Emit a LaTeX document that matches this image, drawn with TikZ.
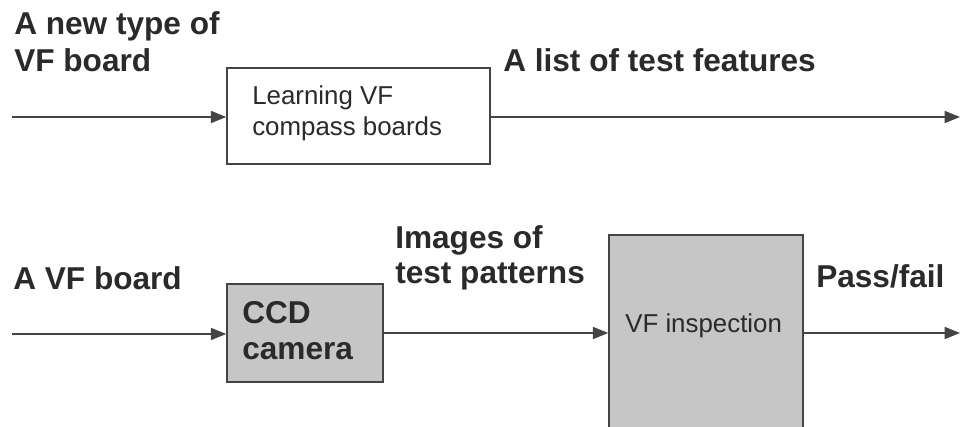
\documentclass[tikz,border=0pt]{standalone}
\usepackage{fontspec}
\setmainfont{Liberation Sans}
\usetikzlibrary{arrows.meta}
\definecolor{ink}{HTML}{2A2A2A}
\definecolor{wire}{HTML}{444444}
\definecolor{boxgray}{HTML}{C6C6C6}
\tikzset{
  flow/.style={draw=wire, line width=1.1pt, -{Triangle[length=11.5pt,width=9pt]}},
  plainbox/.style={draw=wire, line width=1.1pt, fill=white, inner sep=0pt},
  shadedbox/.style={draw=wire, line width=1.1pt, fill=boxgray, inner sep=0pt},
  biglabel/.style={text=ink, inner sep=0pt, anchor=base west, align=left,
    font=\fontsize{23.7}{27.75}\selectfont\bfseries},
  boxtext/.style={text=ink, inner sep=0pt, anchor=base west, align=left,
    font=\fontsize{19.4}{23.25}\selectfont},
}
\begin{document}
\begin{tikzpicture}[x=0.75pt, y=-0.75pt]
\useasboundingbox (0,0) rectangle (962,427);

% learning stage
\node[plainbox, minimum width=197.25pt, minimum height=72pt] (learn) at (358.5,116) {};
\node[boxtext] (learntxt) at (252,105) {Learning VF};
\node[boxtext] (learntxt2) at (252,136) {compass boards};
\coordinate (inA) at (12,117);
\coordinate (outA) at (960,117);
\draw[flow] (inA) -- (inA -| learn.west);
\draw[flow] (outA -| learn.east) -- (outA);
\node[biglabel] (newtype) at (14,35) {A new type of};
\node[biglabel] (newtype2) at (14,72) {VF board};
\node[biglabel] (features) at (503,72) {A list of test features};

% inspection stage
\node[shadedbox, minimum width=117pt, minimum height=73.5pt] (ccd) at (305,333) {};
\node[biglabel] (ccdtxt) at (242,323) {CCD};
\node[biglabel] (ccdtxt2) at (242,359) {camera};
\node[shadedbox, minimum width=145.5pt, minimum height=147.75pt] (insp) at (706,333.5) {};
\node[boxtext] (insptxt) at (625,332) {VF inspection};
\coordinate (inB) at (12,334);
\coordinate (outB) at (960,333);
\draw[flow] (inB) -- (inB -| ccd.west);
\draw[flow] (ccd.east |- outB) -- (insp.west |- outB);
\draw[flow] (insp.east |- outB) -- (outB);
\node[biglabel] (board) at (13,289) {A VF board};
\node[biglabel] (images) at (395,248) {Images of};
\node[biglabel] (images2) at (395,283) {test patterns};
\node[biglabel] (pass) at (816,287) {Pass/fail};
\end{tikzpicture}
\end{document}
